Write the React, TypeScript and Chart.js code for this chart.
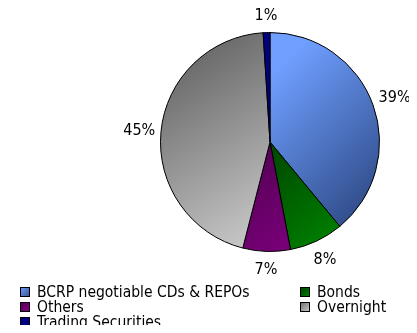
import React, { useEffect, useRef } from "react";
import { Chart, registerables } from "chart.js";

Chart.register(...registerables);

const categories = [
  "BCRP negotiable CDs & REPOs",
  "Bonds",
  "Others",
  "Overnight",
  "Trading Securities",
];
const shares = [39, 8, 7, 45, 1];
// gradient stop pairs per slice: [start, end]
const sliceColors: [string, string][] = [
  ["#6f9fff", "#33508f"],
  ["#003f00", "#008400"],
  ["#520052", "#850085"],
  ["#6a6a6a", "#d0d0d0"],
  ["#000080", "#000080"],
];
// legend layout: which column/row each category sits in
const legendSlots: [number, number][] = [
  [0, 0],
  [1, 0],
  [0, 1],
  [1, 1],
  [0, 2],
];

const LEGEND_FONT = "15.5px 'DejaVu Sans Condensed', 'DejaVu Sans', sans-serif";
const LABEL_FONT = "16px 'DejaVu Sans Condensed', 'DejaVu Sans', sans-serif";

function sliceGradient(ctx: CanvasRenderingContext2D, area: any, i: number) {
  const cx = (area.left + area.right) / 2;
  const cy = (area.top + area.bottom) / 2;
  const r = Math.min(area.right - area.left, area.bottom - area.top) / 2;
  let g: CanvasGradient;
  if (i === 0) {
    g = ctx.createLinearGradient(cx, cy - r * 0.6, cx + r, cy + r * 0.4);
  } else if (i === 3) {
    g = ctx.createLinearGradient(cx - r, cy - r * 0.6, cx, cy + r);
  } else {
    g = ctx.createLinearGradient(cx - r * 0.2, cy, cx + r * 0.6, cy + r);
  }
  g.addColorStop(0, sliceColors[i][0]);
  g.addColorStop(1, sliceColors[i][1]);
  return g;
}

const outsideLabels = {
  id: "outsideLabels",
  afterDatasetsDraw(chart: any) {
    const { ctx } = chart;
    const meta = chart.getDatasetMeta(0);
    ctx.save();
    ctx.font = LABEL_FONT;
    ctx.fillStyle = "#000";
    ctx.textAlign = "center";
    ctx.textBaseline = "middle";
    meta.data.forEach((arc: any, i: number) => {
      const text = shares[i] + "%";
      const w = ctx.measureText(text).width;
      const mid = (arc.startAngle + arc.endAngle) / 2;
      const cos = Math.cos(mid);
      const sin = Math.sin(mid);
      const rr = arc.outerRadius + 10 + Math.abs(cos) * w * 0.35 + Math.abs(sin) * 7;
      ctx.fillText(text, arc.x + cos * rr, arc.y + sin * rr + 1);
    });
    ctx.restore();
  },
};

const gridLegend = {
  id: "gridLegend",
  afterDraw(chart: any) {
    const { ctx } = chart;
    const colX = [12, 292];
    const rowY = [284, 299, 314];
    ctx.save();
    ctx.font = LEGEND_FONT;
    ctx.textBaseline = "middle";
    ctx.textAlign = "left";
    categories.forEach((label, i) => {
      const [c, r] = legendSlots[i];
      const x = colX[c];
      const y = rowY[r];
      const g = ctx.createLinearGradient(x, y - 5, x + 10, y + 5);
      g.addColorStop(0, sliceColors[i][0]);
      g.addColorStop(1, sliceColors[i][1]);
      ctx.fillStyle = g;
      ctx.fillRect(x, y - 5, 10, 10);
      ctx.strokeStyle = "#000";
      ctx.lineWidth = 1;
      ctx.strokeRect(x + 0.5, y - 4.5, 9, 9);
      ctx.fillStyle = "#000";
      ctx.fillText(label, x + 17, y + 1);
    });
    ctx.restore();
  },
};

export default function App() {
  const ref = useRef<HTMLCanvasElement>(null);
  useEffect(() => {
    if (!ref.current) return;
    const chart = new Chart(ref.current, {
      type: "pie",
      data: {
        labels: categories,
        datasets: [
          {
            data: shares,
            backgroundColor: (c: any) => {
              const area = c.chart.chartArea;
              if (!area) return sliceColors[c.dataIndex][0];
              return sliceGradient(c.chart.ctx, area, c.dataIndex);
            },
            borderColor: "#000",
            borderWidth: 1,
          },
        ],
      },
      options: {
        responsive: false,
        animation: false,
        layout: { padding: { left: 152, top: 24, right: 29, bottom: 73 } },
        plugins: {
          legend: { display: false },
          tooltip: { enabled: false },
        },
      },
      plugins: [outsideLabels, gridLegend],
    });
    return () => chart.destroy();
  }, []);
  return <canvas ref={ref} width={401} height={317} />;
}
